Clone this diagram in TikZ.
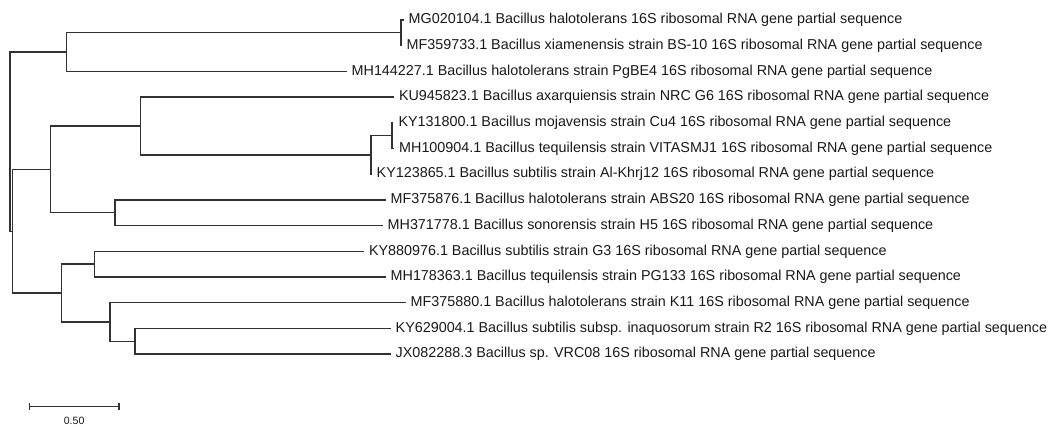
\documentclass[tikz,border=0pt]{standalone}
\usepackage{fontspec}
\usetikzlibrary{calc}
\newfontfamily\taxfont{Liberation Sans}
\definecolor{linegray}{RGB}{50,50,50}
\definecolor{textgray}{RGB}{25,25,25}
\tikzset{
  branch/.style={draw=linegray,line width=1.3pt,line cap=rect},
  taxon/.style={anchor=west,inner sep=0pt,xshift=5.5pt,text=textgray,
    font=\taxfont\fontsize{14.35}{17}\selectfont},
  scalelbl/.style={anchor=north,inner sep=0pt,text=textgray,
    font=\taxfont\fontsize{10.6}{12}\selectfont}
}
\begin{document}
\begin{tikzpicture}[x=1pt,y=-1pt]
  \useasboundingbox (0,0) rectangle (1052,427);
  % internal node: name, x, two children (y halfway between them)
  \def\clade(#1)#2#3#4{
    \path let \p1=($(#3)!.5!(#4)$) in coordinate (#1) at (#2pt,\y1);
    \draw[branch] (#3) -| (#1) |- (#4);
  }

  % tips: where the branch ends / name of the sequence
  \foreach \x/\lab [count = \i] in {
      403/{MG020104.1 Bacillus halotolerans 16S ribosomal RNA gene partial sequence},
      401/{MF359733.1 Bacillus xiamenensis strain BS-10 16S ribosomal RNA gene partial sequence},
      346/{MH144227.1 Bacillus halotolerans strain PgBE4 16S ribosomal RNA gene partial sequence},
      393.3/{KU945823.1 Bacillus axarquiensis strain NRC G6 16S ribosomal RNA gene partial sequence},
      392.8/{KY131800.1 Bacillus mojavensis strain Cu4 16S ribosomal RNA gene partial sequence},
      393.5/{MH100904.1 Bacillus tequilensis strain VITASMJ1 16S ribosomal RNA gene partial sequence},
      371/{KY123865.1 Bacillus subtilis strain Al-Khrj12 16S ribosomal RNA gene partial sequence},
      385/{MF375876.1 Bacillus halotolerans strain ABS20 16S ribosomal RNA gene partial sequence},
      382/{MH371778.1 Bacillus sonorensis strain H5 16S ribosomal RNA gene partial sequence},
      363.3/{KY880976.1 Bacillus subtilis strain G3 16S ribosomal RNA gene partial sequence},
      385/{MH178363.1 Bacillus tequilensis strain PG133 16S ribosomal RNA gene partial sequence},
      405/{MF375880.1 Bacillus halotolerans strain K11 16S ribosomal RNA gene partial sequence},
      390/{KY629004.1 Bacillus subtilis subsp. inaquosorum strain R2 16S ribosomal RNA gene partial sequence},
      390/{JX082288.3 Bacillus sp. VRC08 16S ribosomal RNA gene partial sequence}}{
    \coordinate (l\i) at (\x,{20+25.7*(\i-1)});
    \node[taxon] (t\i) at (l\i) {\lab};
  }

  \clade(n12){401}{l1}{l2}
  \clade(nA){66.7}{n12}{l3}
  \clade(n56){392}{l5}{l6}
  \clade(n567){371}{n56}{l7}
  \clade(n4){140.7}{l4}{n567}
  \clade(n89){115}{l8}{l9}
  \clade(nC){50.7}{n4}{n89}
  \clade(n1011){94.3}{l10}{l11}
  \clade(n1314){135}{l13}{l14}
  \clade(n1214){110}{l12}{n1314}
  \clade(nD){61.7}{n1011}{n1214}
  \clade(nB){12.7}{nC}{nD}
  \clade(root){10}{nA}{nB}

  % scale bar
  \coordinate (sb1) at (29.3,406.7);
  \coordinate (sb2) at (119,406.7);
  \draw[branch,line cap=butt] (sb1) -- (sb2);
  \draw[branch,line cap=butt] ($(sb1)+(0,-3.5)$) -- ($(sb1)+(0,3.5)$);
  \draw[branch,line cap=butt] ($(sb2)+(0,-3.5)$) -- ($(sb2)+(0,3.5)$);
  \node[scalelbl] (sblbl) at ($(sb1)!.5!(sb2)+(0,10)$) {0.50};
\end{tikzpicture}
\end{document}
